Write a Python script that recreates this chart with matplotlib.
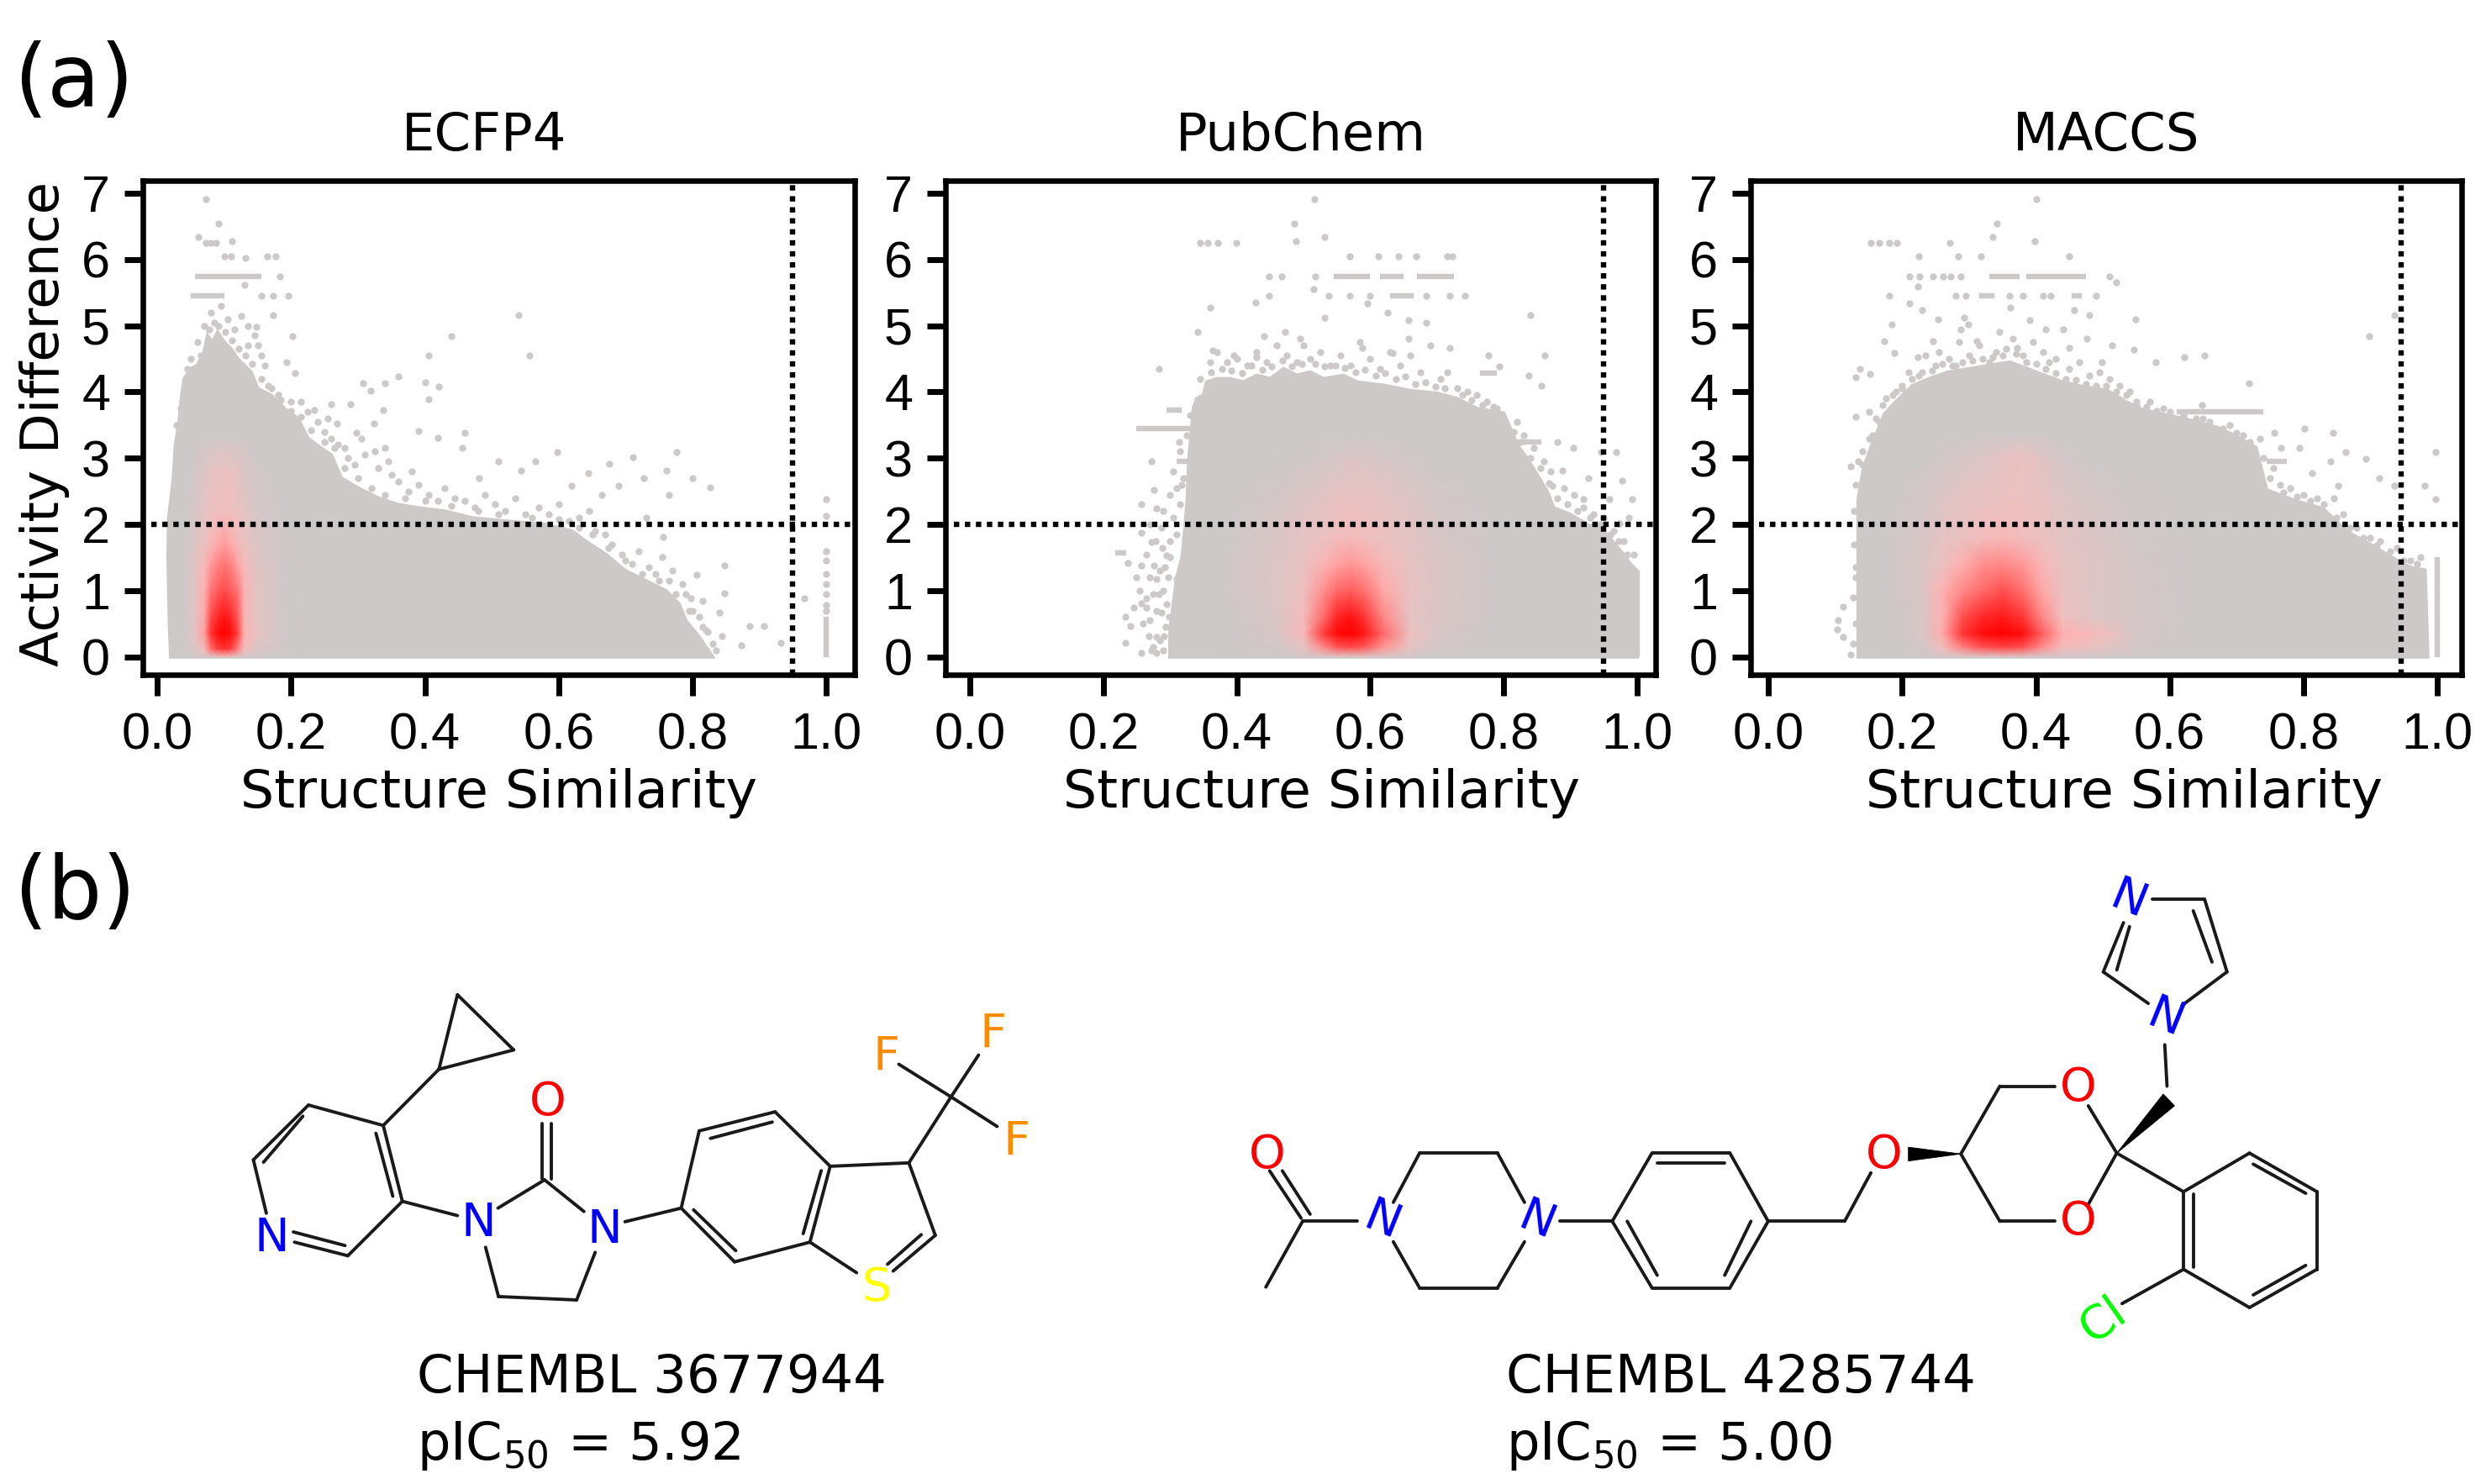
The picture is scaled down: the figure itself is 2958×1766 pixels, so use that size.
import matplotlib
matplotlib.use('Agg')
import matplotlib.pyplot as plt
import numpy as np
from matplotlib.colors import LinearSegmentedColormap
from matplotlib.patches import Polygon

W, H = 2958, 1766
DPI = 200
GRAY = '#CDC9C9'
TEXT_FONT = 'DejaVu Sans'
TICK_FONT = 'Liberation Sans'

TITLES = ['ECFP4', 'PubChem', 'MACCS']
XTICKS = [0.0, 0.2, 0.4, 0.6, 0.8, 1.0]
YTICKS = [0, 1, 2, 3, 4, 5, 6, 7]
ACT_CUT = 2.0
SIM_CUTS = [0.95, 0.95, 0.946]

# upper outline of the solid grey cloud
ECFP_X = [.020, .018, .016, .017, .024, .027, .032, .036, .040, .050, .060, .070, .075, .082, .090, .100, .110, .120, .130, .140, .150, .170, .190, .210, .225, .245, .260, .275, .300, .330, .360, .390, .430, .470, .520, .580, .620, .640, .670, .700, .730, .760, .780, .790, .810, .825, .830]
ECFP_Y = [0.0, 0.5, 1.5, 2.1, 2.7, 3.2, 3.5, 3.9, 4.2, 4.35, 4.4, 4.6, 4.85, 4.75, 4.9, 4.75, 4.65, 4.5, 4.4, 4.3, 4.05, 3.95, 3.75, 3.6, 3.3, 3.15, 3.05, 2.7, 2.55, 2.4, 2.3, 2.25, 2.2, 2.1, 2.05, 2.0, 1.9, 1.75, 1.55, 1.3, 1.15, 1.0, 0.8, 0.55, 0.3, 0.08, 0.0]
PUB_X = [.300, .300, .305, .310, .318, .322, .326, .328, .332, .335, .340, .350, .355, .370, .390, .410, .430, .450, .470, .490, .510, .530, .560, .580, .620, .660, .700, .730, .760, .800, .810, .820, .835, .850, .865, .875, .900, .925, .950, .975, .990, 1.000, 1.000]
PUB_Y = [0.0, 0.4, 0.8, 1.2, 1.5, 1.9, 2.4, 2.95, 3.4, 3.75, 3.9, 3.95, 4.15, 4.2, 4.2, 4.15, 4.25, 4.2, 4.35, 4.25, 4.3, 4.2, 4.25, 4.15, 4.1, 4.02, 3.98, 3.9, 3.75, 3.68, 3.45, 3.2, 3.0, 2.75, 2.5, 2.25, 2.15, 2.0, 1.9, 1.6, 1.4, 1.3, 0.0]
MACCS_X = [.134, .134, .134, .142, .153, .173, .190, .215, .240, .269, .300, .330, .361, .400, .437, .470, .507, .535, .560, .606, .640, .675, .705, .729, .745, .790, .829, .867, .900, .929, .960, .982, .986]
MACCS_Y = [0.0, 1.52, 2.38, 2.85, 3.16, 3.66, 3.85, 4.09, 4.2, 4.3, 4.35, 4.4, 4.45, 4.3, 4.16, 4.08, 4.02, 3.85, 3.73, 3.63, 3.55, 3.45, 3.3, 3.16, 2.52, 2.35, 2.24, 1.88, 1.7, 1.52, 1.35, 1.31, 0.0]

# single points outside the solid cloud
ECFP_PX = [.073, .091, .061, .073, .080, .088, .112, .100, .110, .131, .164, .177, .183, .130, .173, .156, .196, .173, .148, .202, .193, .206, .440, .540, .556, .405, .360, .340, .308, .319, .400, .421, .405, .289, .260, .235, .338, .269, .324, .390, .460, .419, .298, .340, .456, .598, .776, .711, .676, .565, .544, .510, .481, .644, .727, .761, .800, .827, .765, .690, .619, .665, .731, .756, .807, .848, .848, .798, .840, .886, .907, .967, .932, .873, .844, .823, 1.0, 1.0, 1.0, 1.0, 1.0, 1.0, 1.0, 1.0, 1.0]
ECFP_PY = [6.91, 6.54, 6.34, 6.25, 6.25, 6.25, 6.28, 6.05, 6.05, 6.02, 6.05, 6.05, 5.75, 5.62, 5.45, 5.45, 5.45, 5.16, 4.98, 4.84, 4.45, 4.29, 4.84, 5.16, 4.55, 4.55, 4.23, 4.13, 4.13, 4.02, 4.15, 4.08, 3.89, 3.81, 3.81, 3.73, 3.73, 3.52, 3.52, 3.41, 3.38, 3.31, 3.38, 3.16, 3.16, 3.09, 3.09, 3.02, 2.92, 2.95, 2.81, 2.95, 2.70, 2.77, 2.70, 2.81, 2.70, 2.56, 2.45, 2.59, 2.59, 2.45, 2.10, 1.81, 1.24, 1.38, 0.96, 0.88, 0.67, 0.46, 0.46, 0.88, 0.21, 0.17, 0.31, 0.38, 2.38, 2.13, 1.60, 1.45, 1.10, 0.95, 0.78, 0.70, 1.25]
PUB_PX = [.517, .486, .489, .532, .345, .357, .372, .399, .569, .612, .642, .669, .715, .723, .448, .467, .518, .448, .538, .569, .600, .684, .719, .742, .428, .360, .515, .596, .341, .284, .840, .861, .838, .856, .794, .532, .472, .441, .657, .684, .719, .777, .626, .657, .495, .364, .395, .430, .588, .634, .272, .276, .257, .314, .318, .280, .257, .272, .237, .257, .280, .264, .287, .233, .241, .233, .257, .272, .291, .268, .257, .276, .295, .287, .310, .299, .280, .880, .904, .969, .946, .927, .977, .992, .888, .873, .958, .919, .988, .973]
PUB_PY = [6.91, 6.54, 6.28, 6.34, 6.25, 6.25, 6.25, 6.25, 6.05, 6.05, 6.05, 6.05, 6.05, 6.05, 5.75, 5.75, 5.75, 5.45, 5.45, 5.45, 5.45, 5.45, 5.45, 5.45, 5.35, 5.27, 5.55, 5.34, 4.91, 4.35, 5.16, 4.55, 4.25, 4.09, 4.38, 5.12, 4.91, 4.84, 5.09, 5.05, 4.66, 4.55, 5.20, 4.80, 4.80, 4.63, 4.55, 4.52, 4.66, 4.59, 2.95, 2.52, 2.31, 3.24, 2.60, 2.24, 1.88, 1.74, 1.42, 1.38, 1.17, 0.88, 0.67, 0.60, 0.46, 0.21, 0.06, 0.10, 0.31, 0.31, 0.81, 1.38, 1.53, 1.95, 1.17, 0.60, 0.06, 3.24, 3.16, 3.09, 3.09, 2.70, 2.66, 2.38, 2.81, 2.59, 2.38, 2.38, 2.10, 2.02]
MACCS_PX = [.400, .342, .335, .398, .271, .153, .165, .180, .192, .224, .284, .318, .450, .211, .226, .246, .261, .272, .288, .510, .520, .180, .280, .295, .360, .380, .410, .422, .490, .223, .211, .230, .253, .184, .292, .361, .391, .457, .480, .549, .936, .899, .547, .579, .622, .652, .718, .173, .188, .136, .130, .152, .130, .150, .123, .134, .111, .104, .102, .111, .123, .130, .648, .844, .802, .998, .982, .998, .863, .894, .840, .913, .813, .756, .767, .794, .936, .852, .299, .311, .288, .345, .372, .414, .441, .449, .476, .514, .499, .246, .223]
MACCS_PY = [6.91, 6.54, 6.34, 6.28, 6.25, 6.25, 6.25, 6.25, 6.25, 6.05, 6.05, 6.05, 6.05, 5.75, 5.75, 5.75, 5.75, 5.75, 5.75, 5.75, 5.66, 5.45, 5.45, 5.45, 5.45, 5.45, 5.45, 5.45, 5.45, 5.59, 5.34, 5.23, 5.10, 5.02, 5.12, 5.27, 5.09, 5.23, 5.16, 5.10, 5.16, 4.84, 4.64, 4.45, 4.52, 4.55, 4.13, 4.77, 4.59, 4.35, 4.22, 4.27, 3.63, 3.70, 2.88, 2.95, 0.76, 0.56, 0.42, 0.30, 0.03, 1.20, 3.80, 3.39, 3.45, 3.09, 2.59, 2.38, 3.09, 2.99, 2.95, 2.70, 2.77, 3.38, 3.16, 3.16, 2.59, 2.59, 5.02, 4.77, 4.95, 4.91, 4.66, 4.95, 4.95, 4.66, 4.80, 4.70, 4.45, 4.77, 4.52]

# loose points hugging the cloud edge
ECFP_FX = [.060, .070, .080, .085, .095, .105, .115, .125, .135, .145, .150, .135, .160, .155, .045, .050, .035, .028, .165, .180, .200, .215, .225, .240, .250, .260, .255, .270, .280, .285, .295, .305, .310, .325, .330, .345, .350, .360, .375, .380, .390, .405, .420, .430, .445, .460, .475, .490, .505, .520, .535, .550, .570, .585, .600, .615, .630, .645, .655, .670, .680, .695, .710, .720, .735, .745, .755, .765, .770, .785, .790, .800, .810, .820, .815, .830, .835]
ECFP_FY = [4.75, 5.0, 5.2, 5.05, 5.3, 5.1, 4.95, 5.15, 5.0, 4.85, 4.7, 4.7, 4.4, 4.55, 4.35, 4.5, 3.75, 3.5, 4.1, 3.95, 3.85, 3.85, 3.7, 3.55, 3.4, 3.3, 3.6, 3.2, 3.15, 3.0, 2.9, 3.3, 3.05, 3.1, 2.85, 2.95, 2.75, 2.65, 2.5, 2.8, 2.6, 2.45, 2.35, 2.55, 2.4, 2.35, 2.25, 2.45, 2.3, 2.2, 2.4, 2.15, 2.25, 2.15, 2.3, 2.05, 2.1, 2.2, 1.9, 1.85, 1.7, 1.55, 1.4, 1.6, 1.35, 1.25, 1.5, 1.15, 1.3, 1.1, 0.95, 0.7, 0.6, 0.4, 0.85, 0.2, 0.1]
PUB_FX = [.360, .370, .385, .400, .415, .430, .445, .460, .475, .490, .500, .510, .525, .540, .555, .570, .585, .600, .615, .630, .645, .660, .675, .690, .705, .715, .730, .745, .760, .775, .790, .820, .830, .845, .860, .870, .890, .905, .920, .935, .950, .965, .980, .995, .265, .270, .275, .280, .285, .290, .293, .295, .297, .300, .300, .305, .310, .315, .320, .310, .285, .290, .280, .270, .275, .260, .250, .255, .245, .265, .283, .292, .288, .278, .270, .290, .300, .305, .315, .325, .330]
PUB_FY = [4.45, 4.6, 4.45, 4.5, 4.4, 4.6, 4.45, 4.7, 4.55, 4.45, 4.7, 4.5, 4.6, 4.4, 4.55, 4.4, 4.75, 4.5, 4.35, 4.6, 4.4, 4.55, 4.3, 4.7, 4.2, 4.3, 4.05, 4.0, 3.95, 3.85, 3.75, 3.55, 3.35, 3.15, 2.95, 2.8, 2.55, 2.45, 2.25, 2.15, 2.1, 1.9, 1.75, 1.55, 1.55, 1.2, 0.95, 0.7, 1.3, 1.0, 0.45, 0.8, 1.2, 1.5, 1.75, 2.1, 1.85, 2.3, 2.7, 2.55, 0.25, 0.1, 0.3, 0.55, 0.15, 0.5, 1.2, 1.0, 0.75, 0.75, 0.95, 1.35, 1.65, 1.75, 2.0, 2.2, 2.45, 2.8, 3.1, 3.35, 3.65]
MACCS_FX = [.200, .210, .225, .235, .250, .255, .270, .280, .285, .300, .315, .330, .340, .355, .365, .380, .395, .410, .420, .430, .450, .465, .480, .495, .510, .525, .540, .550, .570, .590, .620, .650, .690, .710, .735, .755, .765, .780, .800, .820, .845, .860, .880, .900, .915, .940, .960, .975, .155, .165, .175, .190, .140, .130, .128, .128, .130, .127, .130, .127, .145]
MACCS_FY = [4.05, 4.3, 4.25, 4.55, 4.4, 4.6, 4.5, 4.4, 4.75, 4.55, 4.7, 4.45, 4.6, 4.65, 4.8, 4.55, 4.75, 4.6, 4.45, 4.5, 4.35, 4.45, 4.25, 4.3, 4.2, 4.1, 4.0, 3.85, 3.85, 3.75, 3.65, 3.6, 3.5, 3.35, 3.3, 2.85, 2.6, 2.55, 2.45, 2.4, 2.4, 2.15, 1.95, 1.8, 1.75, 1.65, 1.45, 1.5, 3.35, 3.55, 3.9, 4.0, 3.1, 2.6, 2.2, 1.7, 1.35, 0.9, 0.5, 0.2, 2.85]

# points right on the edge, closing the gap to the solid part
ECFP_GX = [.065, .078, .092, .102, .112, .122, .132, .142, .155, .170, .185, .200, .215, .230, .250, .265, .280, .300, .320, .340, .370, .400, .440, .480, .510, .560, .600, .630, .650, .675, .700, .725, .750, .775, .795, .815]
ECFP_GY = [4.55, 4.95, 5.0, 4.9, 4.78, 4.65, 4.55, 4.42, 4.2, 4.05, 3.88, 3.72, 3.62, 3.42, 3.25, 3.15, 2.85, 2.7, 2.55, 2.45, 2.4, 2.35, 2.28, 2.2, 2.15, 2.1, 2.08, 1.95, 1.85, 1.65, 1.45, 1.25, 1.15, 0.95, 0.7, 0.45]
PUB_GX = [.345, .362, .378, .392, .408, .422, .438, .452, .468, .482, .498, .518, .532, .548, .562, .578, .592, .608, .622, .638, .652, .668, .682, .698, .712, .738, .752, .768, .785, .815, .825, .840, .855, .868, .880, .895, .910, .930, .945, .960, .972, .985]
PUB_GY = [4.2, 4.3, 4.35, 4.32, 4.28, 4.4, 4.33, 4.38, 4.48, 4.38, 4.42, 4.42, 4.38, 4.4, 4.36, 4.3, 4.33, 4.25, 4.28, 4.2, 4.24, 4.12, 4.15, 4.08, 4.05, 3.95, 3.88, 3.8, 3.78, 3.4, 3.25, 3.0, 2.85, 2.62, 2.4, 2.3, 2.2, 2.1, 2.0, 1.85, 1.75, 1.55]
MACCS_GX = [.140, .150, .160, .170, .185, .200, .215, .230, .245, .260, .275, .290, .305, .320, .335, .350, .370, .385, .400, .415, .430, .445, .460, .475, .490, .505, .520, .535, .550, .565, .580, .600, .620, .640, .660, .680, .700, .720, .740, .750, .770, .790, .810, .830, .850, .870, .890, .910, .930, .950, .970]
MACCS_GY = [2.9, 3.3, 3.6, 3.8, 3.95, 4.1, 4.2, 4.3, 4.32, 4.42, 4.4, 4.45, 4.48, 4.5, 4.52, 4.55, 4.58, 4.45, 4.42, 4.35, 4.28, 4.2, 4.18, 4.12, 4.1, 4.1, 4.0, 3.95, 3.8, 3.78, 3.72, 3.7, 3.62, 3.6, 3.55, 3.45, 3.38, 3.25, 3.0, 2.7, 2.48, 2.42, 2.35, 2.3, 2.1, 1.95, 1.8, 1.68, 1.6, 1.45, 1.4]

# runs of points at one activity difference: y, x from, x to
ECFP_RUN_Y = [5.75, 5.45]
ECFP_RUN_A = [0.056, 0.050]
ECFP_RUN_B = [0.156, 0.100]
PUB_RUN_Y = [5.75, 5.75, 5.75, 5.45, 4.29, 3.45, 3.73, 2.95, 3.25, 1.57]
PUB_RUN_A = [0.545, 0.615, 0.670, 0.630, 0.765, 0.249, 0.295, 0.310, 0.815, 0.218]
PUB_RUN_B = [0.600, 0.650, 0.725, 0.665, 0.790, 0.357, 0.318, 0.334, 0.857, 0.234]
MACCS_RUN_Y = [5.75, 5.75, 5.45, 5.45, 3.70, 2.95]
MACCS_RUN_A = [0.330, 0.385, 0.315, 0.453, 0.610, 0.745]
MACCS_RUN_B = [0.376, 0.475, 0.338, 0.468, 0.740, 0.775]

# stack at similarity 1.0: x, y from, y to
ECFP_STACK = [1.0, 0.0, 0.6]
PUB_STACK = [1.0, 0.0, 1.3]
MACCS_STACK = [1.0, 0.0, 1.5]

ECFP_DX = [.04, .055, .07, .08, .09, .10, .11, .12, .13, .15, .19, .24]
ECFP_DY = [0.0, 0.12, 0.35, 0.6, 1.0, 1.4, 1.75, 2.2, 2.8, 3.3]
ECFP_D = [
    [0, .02, .05, .10, .20, .25, .20, .10, .05, .02, 0, 0],
    [0, .10, .30, .60, .75, .80, .75, .55, .30, .10, .02, 0],
    [0, .15, .45, .80, .95, 1.0, .95, .75, .38, .18, .03, 0],
    [0, .15, .42, .72, .85, .92, .85, .68, .35, .15, .03, 0],
    [0, .15, .40, .58, .66, .72, .66, .58, .36, .15, .03, 0],
    [0, .13, .32, .46, .54, .58, .54, .44, .30, .13, .02, 0],
    [0, .10, .22, .30, .40, .45, .40, .30, .20, .10, .02, 0],
    [0, .07, .17, .22, .25, .27, .25, .22, .15, .07, .01, 0],
    [0, .04, .12, .17, .20, .22, .20, .16, .10, .04, 0, 0],
    [0, 0, .02, .03, .04, .04, .04, .03, .02, 0, 0, 0],
]
PUB_DX = [.38, .46, .50, .53, .55, .57, .59, .62, .66, .70, .80]
PUB_DY = [0.0, 0.15, 0.35, 0.6, 1.0, 1.4, 1.8, 2.4, 3.0, 3.4]
PUB_D = [
    [0, .02, .05, .08, .12, .15, .12, .08, .03, .01, 0],
    [0, .05, .18, .52, .68, .72, .68, .48, .18, .05, 0],
    [0, .08, .32, .78, .96, 1.0, .92, .62, .24, .08, 0],
    [0, .10, .30, .62, .86, .93, .82, .52, .18, .10, 0],
    [.02, .12, .24, .50, .62, .66, .60, .42, .20, .10, 0],
    [.02, .12, .20, .36, .44, .48, .44, .32, .18, .10, 0],
    [.01, .10, .17, .22, .27, .30, .27, .22, .16, .08, 0],
    [0, .05, .12, .16, .20, .20, .20, .18, .12, .05, 0],
    [0, 0, .02, .05, .07, .10, .10, .07, .03, 0, 0],
    [0, 0, 0, 0, 0, 0, 0, 0, 0, 0, 0],
]
MACCS_DX = [.17, .23, .26, .29, .32, .35, .38, .41, .44, .49, .55, .65]
MACCS_DY = [0.0, 0.15, 0.35, 0.6, 1.0, 1.4, 1.8, 2.4, 3.0, 3.4]
MACCS_D = [
    [0, .02, .05, .08, .12, .14, .12, .06, .05, .03, .01, 0],
    [0, .05, .28, .55, .70, .75, .70, .50, .30, .20, .05, 0],
    [0, .08, .42, .80, .95, 1.0, .95, .65, .40, .30, .07, 0],
    [0, .08, .38, .70, .85, .90, .80, .52, .25, .12, .07, 0],
    [.01, .10, .38, .52, .62, .70, .60, .42, .20, .12, .06, 0],
    [.01, .10, .22, .40, .50, .52, .47, .33, .18, .12, .05, 0],
    [.01, .08, .17, .22, .28, .32, .28, .22, .16, .10, .04, 0],
    [0, .05, .12, .17, .20, .22, .22, .20, .12, .07, .02, 0],
    [0, .01, .04, .08, .12, .18, .22, .14, .05, .01, 0, 0],
    [0, 0, 0, 0, 0, 0, 0, 0, 0, 0, 0, 0],
]

PANELS = [
    (170, 1017, -0.0217, 1.0427, ECFP_X, ECFP_Y, ECFP_PX + ECFP_FX + ECFP_GX, ECFP_PY + ECFP_FY + ECFP_GY, (ECFP_RUN_Y, ECFP_RUN_A, ECFP_RUN_B), ECFP_STACK, ECFP_DX, ECFP_DY, ECFP_D, 0.48, 0.50),
    (1125, 1970, -0.0365, 1.0277, PUB_X, PUB_Y, PUB_PX + PUB_FX + PUB_GX, PUB_PY + PUB_FY + PUB_GY, (PUB_RUN_Y, PUB_RUN_A, PUB_RUN_B), PUB_STACK, PUB_DX, PUB_DY, PUB_D, 0.50, 0.53),
    (2083, 2929, -0.0269, 1.0367, MACCS_X, MACCS_Y, MACCS_PX + MACCS_FX + MACCS_GX, MACCS_PY + MACCS_FY + MACCS_GY, (MACCS_RUN_Y, MACCS_RUN_A, MACCS_RUN_B), MACCS_STACK, MACCS_DX, MACCS_DY, MACCS_D, 0.50, 0.526),
]
AX_TOP, AX_BOTTOM = 215, 803

cmap = LinearSegmentedColormap.from_list('density', [(0, GRAY), (0.25, '#F0C0C0'), (0.4, '#FFB0B0'), (0.7, '#FF5050'), (1, '#FF0000')])

fig = plt.figure(figsize=(W / DPI, H / DPI), dpi=DPI, facecolor='white')


def draw_panel(i, p):
    left, right, x0, x1, ex, ey, px, py, runs, stack, dx, dy, d, title_x, label_x = p
    ax = fig.add_axes([left / W, 1 - AX_BOTTOM / H, (right - left) / W, (AX_BOTTOM - AX_TOP) / H])
    ax.set_xlim(x0, x1)
    ax.set_ylim(-0.27, 7.19)

    poly = Polygon(list(zip(ex, ey)), closed=True, fc=GRAY, ec=GRAY, lw=1.5, zorder=1)
    ax.add_patch(poly)
    ax.scatter(px, py, s=9, c=GRAY, linewidths=0, zorder=1)
    ax.hlines(runs[0], runs[1], runs[2], colors=GRAY, lw=2.3, zorder=1)
    ax.vlines(stack[0], stack[1], stack[2], colors=GRAY, lw=2.3, zorder=1)

    mesh = ax.pcolormesh(dx, dy, np.array(d), cmap=cmap, vmin=0, vmax=1, shading='gouraud', zorder=2)
    mesh.set_clip_path(poly)

    ax.axhline(ACT_CUT, xmin=0.012, color='k', lw=2.3, ls=(0, (1, 1.05)), zorder=3)
    ax.axvline(SIM_CUTS[i], color='k', lw=2.3, ls=(0, (1, 1.05)), zorder=3)

    ax.set_xticks(XTICKS)
    ax.set_yticks(YTICKS)
    ax.set_xticklabels([f'{t:.1f}' for t in XTICKS], fontfamily=TICK_FONT)
    ax.set_yticklabels([str(t) for t in YTICKS], fontfamily=TICK_FONT)
    ax.tick_params(axis='x', labelsize=22, length=9, width=2.5, pad=7)
    ax.tick_params(axis='y', labelsize=22, length=8, width=2.5, pad=6)
    for s in ax.spines.values():
        s.set_linewidth(2.35)

    ax.set_title(TITLES[i], fontsize=22.5, fontfamily=TEXT_FONT, x=title_x, pad=13)
    ax.set_xlabel('Structure Similarity', fontsize=22.8, fontfamily=TEXT_FONT, x=label_x, labelpad=3.5)
    if i == 0:
        ax.set_ylabel('Activity Difference', fontsize=22.5, fontfamily=TEXT_FONT, labelpad=5, y=0.507)


for i, p in enumerate(PANELS):
    draw_panel(i, p)

# overlay in pixels for the panel letters and the two structures
ov = fig.add_axes([0, 0, 1, 1])
ov.set_xlim(0, W)
ov.set_ylim(H, 0)
ov.axis('off')
ov.patch.set_alpha(0)

ov.text(16, 99, '(a)', fontsize=37, fontfamily=TEXT_FONT, va='center')
ov.text(16, 1064, '(b)', fontsize=37, fontfamily=TEXT_FONT, va='center')

MOL1_BONDS = [
    (407, 352, 440, 133), (440, 133, 540, 295), (540, 295, 407, 352), (407, 352, 308, 517),
    (308, 517, 175, 457), (175, 457, 77, 618), (77, 618, 100, 775), (150, 860, 245, 900),
    (245, 900, 342, 740), (342, 740, 308, 517), (165, 490, 95, 625), (295, 540, 325, 725),
    (148, 830, 240, 870), (342, 740, 440, 782), (512, 760, 595, 677), (590, 675, 590, 512),
    (607, 675, 607, 512), (595, 677, 665, 770), (490, 875, 513, 1020), (513, 1020, 652, 1030),
    (652, 1030, 685, 890), (738, 800, 838, 760), (838, 760, 870, 533), (870, 533, 1005, 477),
    (1005, 477, 1103, 637), (1103, 637, 1067, 860), (1067, 860, 933, 918), (933, 918, 838, 760),
    (890, 555, 1000, 507), (1087, 650, 1055, 835), (935, 885, 860, 765), (1103, 637, 1243, 627),
    (1243, 627, 1290, 840), (1290, 840, 1215, 945), (1265, 838, 1205, 925), (1067, 860, 1150, 950),
    (1243, 627, 1318, 433), (1318, 433, 1367, 310), (1318, 433, 1225, 337), (1318, 433, 1400, 520),
]
MOL1_ATOMS = [
    ('N', 110, 850, 'blue', 0), ('N', 478, 805, 'blue', 0), ('N', 702, 825, 'blue', 0), ('O', 600, 450, 'red', 0),
    ('S', 1185, 995, 'yellow', 0), ('F', 1393, 248, 'darkorange', 0), ('F', 1203, 315, 'darkorange', 0), ('F', 1435, 565, 'darkorange', 0),
]
MOL2_BONDS = [
    (63, 1070, 112, 903), (110, 895, 68, 775), (122, 885, 85, 775), (112, 903, 185, 903),
    (233, 855, 268, 730), (268, 730, 372, 730), (372, 730, 408, 855), (233, 955, 268, 1072),
    (268, 1072, 372, 1072), (372, 1072, 408, 955), (455, 903, 525, 903), (525, 903, 578, 730),
    (578, 730, 682, 730), (682, 730, 733, 903), (733, 903, 682, 1072), (682, 1072, 578, 1072),
    (578, 1072, 525, 903), (585, 755, 675, 755), (710, 903, 675, 1040), (545, 903, 585, 1040),
    (733, 903, 835, 903), (835, 903, 870, 780), (990, 732, 1042, 560), (1042, 560, 1115, 560),
    (1160, 610, 1198, 730), (1198, 730, 1160, 860), (1115, 903, 1042, 903), (1042, 903, 990, 732),
    (1265, 560, 1262, 455), (1240, 350, 1180, 270), (1180, 270, 1207, 145), (1198, 265, 1215, 155),
    (1245, 85, 1315, 85), (1315, 85, 1345, 270), (1300, 115, 1325, 245), (1345, 270, 1285, 355),
    (1198, 730, 1287, 828), (1287, 828, 1375, 730), (1375, 730, 1465, 828), (1465, 828, 1465, 1025),
    (1465, 1025, 1375, 1122), (1375, 1122, 1287, 1025), (1287, 1025, 1287, 828), (1380, 758, 1450, 832),
    (1450, 1015, 1380, 1090), (1300, 1020, 1300, 835), (1287, 1025, 1205, 1112),
]
MOL2_WEDGES = [
    [(990, 732), (920, 715), (920, 750)],
    [(1198, 730), (1260, 580), (1275, 610)],
]
MOL2_ATOMS = [
    ('O', 65, 735, 'red', 0), ('N', 218, 905, 'blue', -22), ('N', 424, 905, 'blue', -22), ('O', 888, 735, 'red', 0),
    ('O', 1146, 565, 'red', 0), ('O', 1146, 905, 'red', 0), ('N', 1263, 390, 'blue', -22), ('N', 1213, 90, 'blue', -22),
    ('Cl', 1180, 1155, 'lime', 35),
]


def draw_mol(ox, oy, sx, sy, bonds, atoms, wedges=()):
    for x0, y0, x1, y1 in bonds:
        ov.plot([ox + x0 / sx, ox + x1 / sx], [oy + y0 / sy, oy + y1 / sy], color='#1a1a1a', lw=1.4, solid_capstyle='round')
    for w in wedges:
        ov.add_patch(Polygon([(ox + a / sx, oy + b / sy) for a, b in w], closed=True, fc='k', ec='k', lw=0.3))
    for s, x, y, c, rot in atoms:
        ov.text(ox + x / sx, oy + y / sy, s, color=c, fontsize=20, fontfamily=TEXT_FONT, ha='center', va='center', rotation=rot)


draw_mol(250, 1130, 1.495, 2.47, MOL1_BONDS, MOL1_ATOMS)
draw_mol(1450, 1030, 1.121, 2.133, MOL2_BONDS, MOL2_ATOMS, MOL2_WEDGES)

ov.text(496, 1640, 'CHEMBL 3677944', fontsize=22.45, fontfamily=TEXT_FONT, va='center')
ov.text(496, 1720, r'pIC$_{50}$ = 5.92', fontsize=22.45, fontfamily=TEXT_FONT, va='center')
ov.text(1792, 1640, 'CHEMBL 4285744', fontsize=22.45, fontfamily=TEXT_FONT, va='center')
ov.text(1792, 1720, r'pIC$_{50}$ = 5.00', fontsize=22.45, fontfamily=TEXT_FONT, va='center')

fig.savefig('out.png', dpi=DPI)
